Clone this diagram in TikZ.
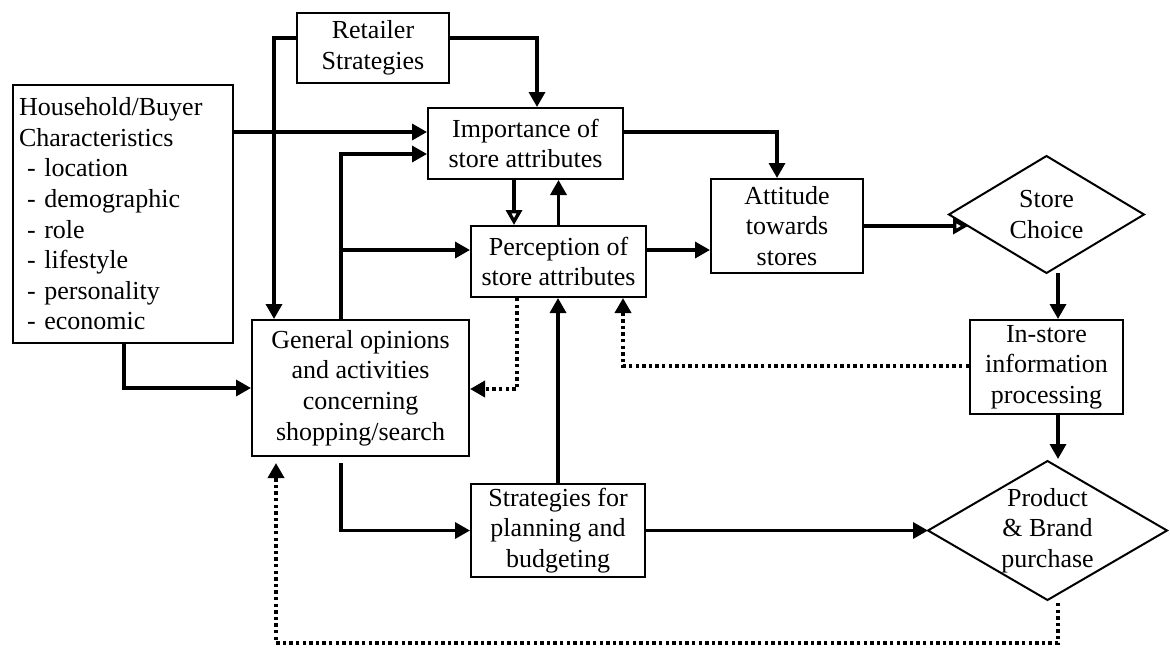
\documentclass[tikz,border=0pt]{standalone}
\usepackage{fontspec}
\setmainfont{Liberation Serif}
\usetikzlibrary{arrows.meta,calc}

\tikzset{
  box/.style={draw, line width=1pt, align=center, inner sep=2pt,
    font=\fontsize{13}{15.3}\selectfont},
  label/.style={align=center, inner sep=0pt, font=\fontsize{13}{15.3}\selectfont},
  shape line/.style={line width=1pt, line join=miter},
  arr/.style={line width=1.7pt, -{Triangle[length=7.5pt,width=8pt]}},
  oarr/.style={line width=1.7pt, -{Triangle[open,length=7.5pt,width=8pt]}},
  dotarr/.style={line width=1.8pt, dash pattern=on 1.7pt off 1.6pt,
    -{Triangle[length=7.5pt,width=8pt]}},
}

\begin{document}
\begin{tikzpicture}[x=0.5pt,y=-0.5pt]
\useasboundingbox (0,0) rectangle (1170,648);

% ---- boxes ----
\node[box, align=left, text width=104pt, inner sep=3pt,
      minimum width=110pt, minimum height=129pt] (hh) at (123,214)
  {Household/Buyer\\Characteristics\\
   \hspace*{4pt}- location\\\hspace*{4pt}- demographic\\\hspace*{4pt}- role\\
   \hspace*{4pt}- lifestyle\\\hspace*{4pt}- personality\\\hspace*{4pt}- economic};

\node[box, minimum width=76pt, minimum height=35pt] (ret) at (373,48)
  {Retailer\\Strategies};
\node[box, minimum width=97.5pt, minimum height=35.5pt] (imp) at (525.5,143.5)
  {Importance of\\store attributes};
\node[box, minimum width=87.5pt, minimum height=35.5pt] (per) at (558.5,261.5)
  {Perception of\\store attributes};
\node[box, minimum width=76pt, minimum height=47pt] (att) at (787,226)
  {Attitude\\towards\\stores};
\node[box, minimum width=76.5pt, minimum height=47pt] (ins) at (1046.5,367)
  {In-store\\information\\processing};
\node[box, minimum width=108.5pt, minimum height=68pt] (gen) at (360.5,388)
  {General opinions\\and activities\\concerning\\shopping/search};
\node[box, minimum width=87pt, minimum height=46.5pt] (str) at (558,530.5)
  {Strategies for\\planning and\\budgeting};

% ---- decision diamonds ----
\node[label] (sc) at (1046.5,214.5) {Store\\Choice};
\coordinate (scN) at ($(sc)+(0,-58.5)$);
\coordinate (scE) at ($(sc)+(97.5,0)$);
\coordinate (scS) at ($(sc)+(0,58.5)$);
\coordinate (scW) at ($(sc)+(-97.5,0)$);
\draw[shape line] (scN) -- (scE) -- (scS) -- (scW) -- cycle;

\node[label] (pb) at (1047.5,530.5) {Product\\\& Brand\\purchase};
\coordinate (pbN) at ($(pb)+(0,-69.5)$);
\coordinate (pbE) at ($(pb)+(119.5,0)$);
\coordinate (pbS) at ($(pb)+(0,69.5)$);
\coordinate (pbW) at ($(pb)+(-119.5,0)$);
\draw[shape line] (pbN) -- (pbE) -- (pbS) -- (pbW) -- cycle;

% ---- helper points on the routes ----
\coordinate (gx) at ($(gen.north)+(-19.5,0)$);
\coordinate (pw) at ($(per.west)+(0,-11.5)$);
\coordinate (ia) at ($(imp.south)+(-11.5,0)$);
\coordinate (rx) at ($(ins.south)+(11.5,0)$);
\coordinate (low) at (0,643);
\coordinate (pbout) at ($(pbS)+(10.5,3)$);

% ---- solid connectors ----
\draw[arr] ($(ret.west)+(0,-10)$) -| ($(gen.north west)+(23,0)$);
\draw[arr] ($(ret.east)+(0,-10)$) -| ($(imp.north)+(11.5,0)$);
\draw[arr] ($(hh.east)+(0,-82)$) -- ($(imp.west)+(0,-11.5)$);
\draw[arr] (gx) |- ($(imp.west)+(0,10.5)$);
\draw[arr] (gx |- pw) -- (pw);
\draw[arr] ($(hh.south)+(1,0)$) |- (gen.west);
\draw[oarr] (ia) -- (ia |- per.north);
\draw[arr] (per.north) -- (per.north |- imp.south);
\draw[arr] ($(imp.east)+(0,-11.5)$) -| ($(att.north)+(-10,0)$);
\draw[arr] (pw -| per.east) -- (pw -| att.west);
\draw[oarr] (att.east) -- ($(sc)+(-78.5,11.5)$);
\draw[arr] ($(scS)+(11.5,0)$) -- (ins.north -| rx);
\draw[arr] (rx) -- ($(rx |- pbN)+(0,-2)$);
\draw[arr] (str.east) -- (pbW);
\draw[arr] (str.north) -- (str.north |- per.south);
\draw[arr] ($(gen.south)+(-19.5,6)$) |- (str.west);

% ---- dotted feedback connectors ----
\draw[dotarr] ($(per.south)+(-41.5,0)$) |- ($(gen.east)+(0,1)$);
\draw[dotarr] ($(ins.west)+(0,-1)$) -| ($(per.south)+(64.5,0)$);
\draw[dotarr] (pbout) -- (pbout |- low) -| ($(gen.south)+(-84.5,6)$);
\end{tikzpicture}
\end{document}
